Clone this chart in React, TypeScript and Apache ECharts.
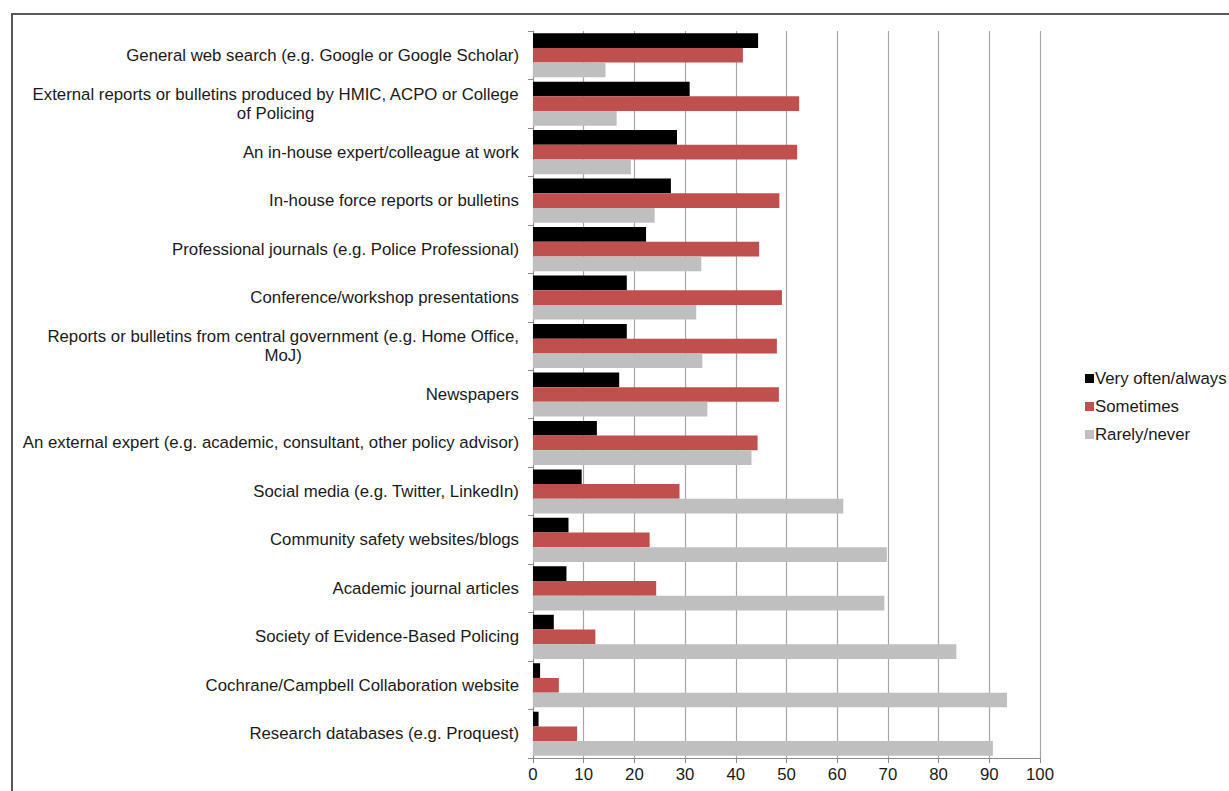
import React, { useEffect, useRef } from "react";
import * as echarts from "echarts";

const categories = [
  "General web search (e.g. Google or Google Scholar)",
  "External reports or bulletins produced by HMIC, ACPO or College\nof Policing",
  "An in-house expert/colleague at work",
  "In-house force reports or bulletins",
  "Professional journals (e.g. Police Professional)",
  "Conference/workshop presentations",
  "Reports or bulletins from central government (e.g. Home Office,\nMoJ)",
  "Newspapers",
  "An external expert (e.g. academic, consultant, other policy advisor)",
  "Social media (e.g. Twitter, LinkedIn)",
  "Community safety websites/blogs",
  "Academic journal articles",
  "Society of Evidence-Based Policing",
  "Cochrane/Campbell Collaboration website",
  "Research databases (e.g. Proquest)",
];

const veryOften = [44.4, 30.9, 28.4, 27.2, 22.3, 18.5, 18.5, 17.0, 12.6, 9.6, 7.0, 6.6, 4.1, 1.4, 1.1];
const sometimes = [41.4, 52.5, 52.1, 48.6, 44.6, 49.1, 48.1, 48.5, 44.3, 28.9, 23.0, 24.3, 12.3, 5.1, 8.7];
const rarely = [14.3, 16.5, 19.3, 24.0, 33.2, 32.2, 33.4, 34.4, 43.1, 61.2, 69.8, 69.3, 83.5, 93.5, 90.7];

const seriesNames = ["Very often/always", "Sometimes", "Rarely/never"];
const seriesColors = ["#000000", "#C0504D", "#BFBFBF"];
const xTicks = [0, 10, 20, 30, 40, 50, 60, 70, 80, 90, 100];

const FONT = "'Liberation Sans', Arial, sans-serif";
const FS = 16.8;

export default function App() {
  const ref = useRef<HTMLDivElement>(null);
  useEffect(() => {
    document.body.style.margin = "0";
    const chart = echarts.init(ref.current!, null, { renderer: "svg" });
    const values = [veryOften, sometimes, rarely];
    chart.setOption({
      animation: false,
      backgroundColor: "#ffffff",
      textStyle: { fontFamily: FONT },
      graphic: [
        {
          type: "rect",
          shape: { x: 12, y: 14, width: 1400, height: 1000 },
          style: { fill: "none", stroke: "#595959", lineWidth: 2 },
          silent: true,
        },
      ],
      grid: { left: 533, right: 189, top: 31, bottom: 33, containLabel: false },
      legend: {
        orient: "vertical",
        left: 1080,
        top: 365,
        itemWidth: 9,
        itemHeight: 9,
        itemGap: 11,
        icon: "rect",
        data: seriesNames,
        textStyle: { fontFamily: FONT, fontSize: FS, color: "#1a1a1a", padding: [0, 0, 0, -4] },
      },
      xAxis: {
        type: "value",
        min: xTicks[0],
        max: xTicks[xTicks.length - 1],
        interval: xTicks[1] - xTicks[0],
        axisLine: { show: true, lineStyle: { color: "#8c8c8c", width: 1 } },
        axisTick: { show: true, length: 5, lineStyle: { color: "#8c8c8c" } },
        splitLine: { show: true, lineStyle: { color: "#a6a6a6", width: 1.2 } },
        axisLabel: { fontFamily: FONT, fontSize: FS, color: "#1a1a1a", margin: 8 },
      },
      yAxis: {
        type: "category",
        inverse: true,
        data: categories,
        axisLine: { show: true, lineStyle: { color: "#8c8c8c", width: 1 } },
        axisTick: { show: true, length: 5, lineStyle: { color: "#8c8c8c" } },
        axisLabel: {
          margin: 14,
          interval: 0,
          formatter: (v: string) => v.split("\n").map((l) => "{c|" + l + "}").join("\n"),
          rich: {
            c: { align: "center", fontFamily: FONT, fontSize: FS, color: "#1a1a1a", lineHeight: 19 },
          },
        },
      },
      series: seriesNames.map((name, i) => ({
        name,
        type: "bar",
        data: values[i],
        barGap: "0%",
        barCategoryGap: "9%",
        itemStyle: { color: seriesColors[i] },
      })),
    });
    return () => chart.dispose();
  }, []);
  return <div ref={ref} style={{ width: 1229, height: 791 }} />;
}
